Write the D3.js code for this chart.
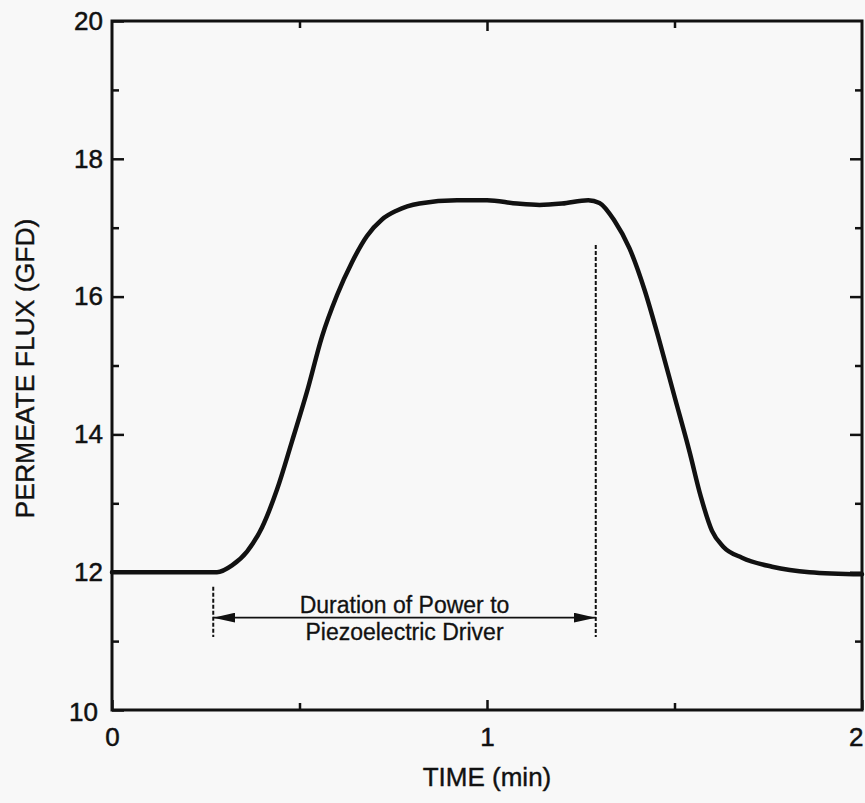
<!DOCTYPE html>
<html>
<head>
<meta charset="utf-8">
<script src="https://cdn.jsdelivr.net/npm/d3@7/dist/d3.min.js"></script>
<style>
  html, body { margin: 0; padding: 0; background: #f8f8f8; }
  svg { display: block; font-family: "Liberation Sans", Arial, sans-serif; }
</style>
</head>
<body>
<div id="chart"></div>
<script>
// permeate flux vs time
const timeMin = [0, 0.28, 0.32, 0.36, 0.40, 0.44, 0.48, 0.52, 0.56, 0.60, 0.64, 0.68, 0.72, 0.76, 0.82, 0.92, 1.00, 1.08, 1.14, 1.20, 1.27, 1.30, 1.34, 1.38, 1.42, 1.46, 1.50, 1.54, 1.57, 1.60, 1.63, 1.68, 1.76, 1.86, 2.00];
const fluxGFD = [12.0, 12.0, 12.10, 12.30, 12.65, 13.20, 13.90, 14.62, 15.42, 16.02, 16.50, 16.88, 17.12, 17.25, 17.35, 17.40, 17.40, 17.35, 17.33, 17.35, 17.40, 17.36, 17.10, 16.70, 16.10, 15.35, 14.55, 13.75, 13.10, 12.60, 12.37, 12.21, 12.08, 12.00, 11.97];

const xMajorTicks = [0, 1, 2];
const xMinorTicks = [0.5, 1.5];
const yMajorTicks = [10, 12, 14, 16, 18, 20];
const yMinorTicks = [11, 13, 15, 17, 19];

// power to piezoelectric driver: on / off times, and the flux levels of the marker lines
const powerOn = 0.27;
const powerOff = 1.29;
const arrowFlux = 11.34;
const markerTop = [11.79, 16.75];
const markerBottom = 11.06;
const annotationLines = ['Duration of Power to', 'Piezoelectric Driver'];

const W = 865, H = 803;
const margin = { top: 21, right: 3, bottom: 93, left: 112 };

const svg = d3.select('#chart').append('svg')
  .attr('width', W).attr('height', H);

const x = d3.scaleLinear().domain([0, 2]).range([margin.left, W - margin.right]);
const y = d3.scaleLinear().domain([10, 20]).range([H - margin.bottom, margin.top]);

const ink = '#111';

// frame
svg.append('rect')
  .attr('x', x(0)).attr('y', y(20))
  .attr('width', x(2) - x(0)).attr('height', y(10) - y(20))
  .attr('fill', 'none').attr('stroke', ink).attr('stroke-width', 3);

function styleAxis(g) {
  g.select('.domain').remove();
  g.selectAll('.tick line').attr('stroke', ink).attr('stroke-width', 2.5);
  g.selectAll('.tick text').attr('fill', ink).attr('font-size', 26)
    .attr('stroke', ink).attr('stroke-width', 0.5);
}

// left axis, ticks point inward
svg.append('g').attr('transform', `translate(${x(0)},0)`)
  .call(d3.axisLeft(y).tickValues(yMajorTicks).tickSizeInner(-12).tickSizeOuter(0).tickPadding(9).tickFormat(d3.format('d')))
  .call(styleAxis)
  .call(g => g.selectAll('.tick text').filter(d => d === 10).attr('dx', -5).attr('dy', '0.42em'));
svg.append('g').attr('transform', `translate(${x(0)},0)`)
  .call(d3.axisLeft(y).tickValues(yMinorTicks).tickSizeInner(-7).tickSizeOuter(0).tickFormat(''))
  .call(styleAxis);

// right axis
svg.append('g').attr('transform', `translate(${x(2)},0)`)
  .call(d3.axisRight(y).tickValues(yMajorTicks.slice(1, -1)).tickSizeInner(-12).tickSizeOuter(0).tickFormat(''))
  .call(styleAxis);
svg.append('g').attr('transform', `translate(${x(2)},0)`)
  .call(d3.axisRight(y).tickValues(yMinorTicks).tickSizeInner(-7).tickSizeOuter(0).tickFormat(''))
  .call(styleAxis);

// bottom axis
svg.append('g').attr('transform', `translate(0,${y(10)})`)
  .call(d3.axisBottom(x).tickValues(xMajorTicks).tickSizeInner(-10).tickSizeOuter(0).tickPadding(18).tickFormat(d3.format('d')))
  .call(styleAxis)
  .call(g => g.selectAll('.tick text').filter(d => d === 2).attr('text-anchor', 'end').attr('dx', 1));
svg.append('g').attr('transform', `translate(0,${y(10)})`)
  .call(d3.axisBottom(x).tickValues(xMinorTicks).tickSizeInner(-7).tickSizeOuter(0).tickFormat(''))
  .call(styleAxis);

// top axis
svg.append('g').attr('transform', `translate(0,${y(20)})`)
  .call(d3.axisTop(x).tickValues([1]).tickSizeInner(-10).tickSizeOuter(0).tickFormat(''))
  .call(styleAxis);
svg.append('g').attr('transform', `translate(0,${y(20)})`)
  .call(d3.axisTop(x).tickValues(xMinorTicks).tickSizeInner(-7).tickSizeOuter(0).tickFormat(''))
  .call(styleAxis);

// axis titles
svg.append('text')
  .attr('x', x(1)).attr('y', 786)
  .attr('text-anchor', 'middle').attr('font-size', 26).attr('fill', ink)
  .attr('stroke', ink).attr('stroke-width', 0.4)
  .text('TIME (min)');

svg.append('text')
  .attr('transform', `translate(34,${(y(10) + y(20)) / 2 + 3}) rotate(-90)`)
  .attr('text-anchor', 'middle').attr('font-size', 26.5).attr('fill', ink)
  .attr('stroke', ink).attr('stroke-width', 0.4)
  .text('PERMEATE FLUX  (GFD)');

// curve
const pts = timeMin.map((t, i) => ({ t, f: fluxGFD[i] }));
const line = d3.line().x(d => x(d.t)).y(d => y(d.f)).curve(d3.curveMonotoneX);
svg.append('path')
  .datum(pts)
  .attr('d', line)
  .attr('fill', 'none').attr('stroke', ink).attr('stroke-width', 4.5)
  .attr('stroke-linejoin', 'round').attr('stroke-linecap', 'round');

// dashed marker lines for power on / off
[powerOn, powerOff].forEach((t, i) => {
  svg.append('line')
    .attr('x1', x(t)).attr('x2', x(t))
    .attr('y1', y(markerTop[i])).attr('y2', y(markerBottom))
    .attr('stroke', ink).attr('stroke-width', 2).attr('stroke-dasharray', '4,2');
});

// double-headed arrow
const defs = svg.append('defs');
defs.append('marker')
  .attr('id', 'arrowhead')
  .attr('viewBox', '0 0 22 10')
  .attr('refX', 22).attr('refY', 5)
  .attr('markerWidth', 22).attr('markerHeight', 10)
  .attr('markerUnits', 'userSpaceOnUse')
  .attr('orient', 'auto-start-reverse')
  .append('path').attr('d', 'M0,0 L22,5 L0,10 Z').attr('fill', ink);

svg.append('line')
  .attr('x1', x(powerOn)).attr('x2', x(powerOff))
  .attr('y1', y(arrowFlux)).attr('y2', y(arrowFlux))
  .attr('stroke', ink).attr('stroke-width', 1.6)
  .attr('marker-start', 'url(#arrowhead)').attr('marker-end', 'url(#arrowhead)');

const midX = (x(powerOn) + x(powerOff)) / 2;
svg.append('text')
  .attr('x', midX).attr('y', y(arrowFlux) - 5)
  .attr('text-anchor', 'middle').attr('font-size', 23).attr('fill', ink)
  .attr('stroke', ink).attr('stroke-width', 0.3)
  .text(annotationLines[0]);
svg.append('text')
  .attr('x', midX).attr('y', y(arrowFlux) + 22)
  .attr('text-anchor', 'middle').attr('font-size', 23).attr('fill', ink)
  .attr('stroke', ink).attr('stroke-width', 0.3)
  .text(annotationLines[1]);
</script>
</body>
</html>
